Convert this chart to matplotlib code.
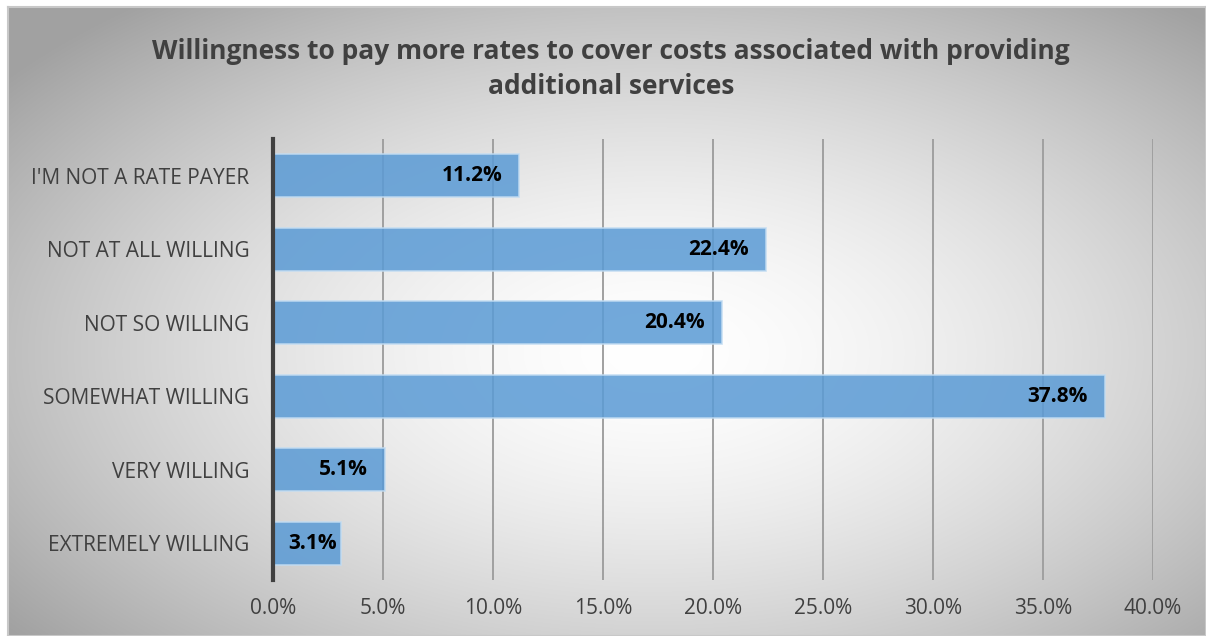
import matplotlib.pyplot as plt
import numpy as np

categories = ["I'M NOT A RATE PAYER", "NOT AT ALL WILLING", "NOT SO WILLING",
              "SOMEWHAT WILLING", "VERY WILLING", "EXTREMELY WILLING"]
values = [11.2, 22.4, 20.4, 37.8, 5.1, 3.1]
xticks = [0, 5, 10, 15, 20, 25, 30, 35, 40]
title = "Willingness to pay more rates to cover costs associated with providing\nadditional services"

plt.rcParams["font.family"] = ["Open Sans", "DejaVu Sans"]

fig = plt.figure(figsize=(12.06, 6.36), dpi=100)

# radial gradient backdrop for the chart area
bg = fig.add_axes([8 / 1206, 0, 1 - 8 / 1206, 1 - 7 / 636])
gx, gy = np.meshgrid(np.linspace(-1, 1, 600), np.linspace(-1, 1, 320))
r = np.sqrt(((gx - 0.08) / 1.05) ** 2 + ((gy - 0.1) / 1.1) ** 2)
shade = 1 - 0.24 * np.clip(r, 0, 1.3) ** 1.6
bg.imshow(np.dstack([shade] * 3), aspect="auto", extent=[0, 1, 0, 1], interpolation="bilinear")
bg.set_xlim(0, 1)
bg.set_ylim(0, 1)
for s in bg.spines.values():
    s.set_color("#c8c8c8")
    s.set_linewidth(1.5)
bg.set_xticks([])
bg.set_yticks([])

ax = fig.add_axes([273 / 1206, 1 - 580 / 636, 880 / 1206, 441 / 636])
ax.patch.set_alpha(0)
y = np.arange(len(categories))
ax.barh(y, values, height=0.58, color="#5b9bd5", alpha=0.86, edgecolor="#c2dcf2",
        linewidth=1.2, zorder=3)

ax.set_xlim(0, 40)
ax.set_ylim(len(categories) - 0.5, -0.5)

# value labels sit inside the bar end; short bars keep the label clear of the axis
renderer = fig.canvas.get_renderer()
inv = ax.transData.inverted()
for yi, v in zip(y, values):
    t = ax.text(v - 0.77, yi, f"{v:.1f}%", ha="right", va="center", fontsize=15,
                fontweight="bold", color="black", zorder=4)
    bb = t.get_window_extent(renderer)
    (x0, _), (x1, _) = inv.transform([[bb.x0, bb.y0], [bb.x1, bb.y1]])
    if x0 < 0.7:
        t.set_x(v - 0.77 + (0.7 - x0))

ax.set_xticks(xticks)
ax.set_xticklabels([f"{t:.1f}%" for t in xticks], fontsize=15, color="#404040")
ax.set_yticks(y)
ax.set_yticklabels(categories, fontsize=15, color="#404040")
ax.tick_params(length=0)
ax.tick_params(axis="x", pad=13)
ax.tick_params(axis="y", pad=17)
ax.grid(axis="x", color="#a0a0a0", linewidth=1.4, zorder=0)
for name in ["top", "right", "bottom"]:
    ax.spines[name].set_visible(False)
ax.spines["left"].set_color("#404040")
ax.spines["left"].set_linewidth(3)
ax.spines["left"].set_zorder(5)

fig.text(611 / 1206, 1 - 69 / 636, title, ha="center", va="center", fontsize=19,
         fontweight="bold", color="#404040", linespacing=1.35)

fig.savefig("out.png", dpi=100)
